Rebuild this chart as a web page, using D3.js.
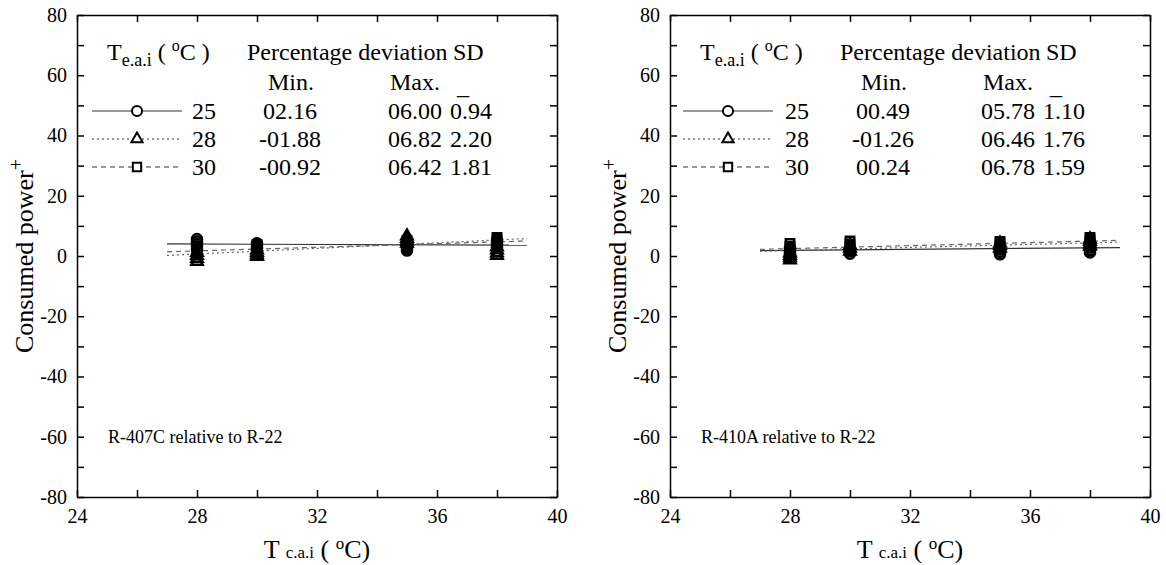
<!DOCTYPE html>
<html>
<head>
<meta charset="utf-8">
<script src="https://cdn.jsdelivr.net/npm/d3@7"></script>
<style>
body { margin: 0; background: #fff; }
svg text { font-family: "Liberation Serif", "DejaVu Serif", serif; fill: #000; }
.axis path, .axis line { stroke: #000; stroke-width: 1.5; }
.axis text { font-size: 20px; font-family: "Liberation Serif", serif; }
</style>
</head>
<body>
<script>
var W = 1166, H = 565;

// measured x positions (T c.a.i) and the three T e.a.i series
var xValues = [28, 30, 35, 38];
var seriesNames = ["25", "28", "30"];
var xTicks = [24, 28, 32, 36, 40];
var yTicks = [-80, -60, -40, -20, 0, 20, 40, 60, 80];

// R-407C relative to R-22 : values per x position (several runs each)
var r407c_25 = [[5.6, 4.8, 4.0, 3.2, 2.4], [4.2, 3.4, 2.6, 1.8], [3.8, 3.0, 2.4, 1.8], [5.2, 4.4, 3.6, 2.8]];
var r407c_28 = [[1.2, 0.2, -0.8, -1.8], [2.0, 1.2, 0.4, -0.2], [6.6, 5.8, 5.0, 4.2], [3.0, 2.0, 1.0, 0.2]];
var r407c_30 = [[3.2, 2.2, 1.2, 0.4], [3.8, 3.0, 2.2, 1.4], [5.2, 4.4, 3.6, 2.8], [6.2, 5.4, 4.6, 3.8]];
// fitted lines [x, y]
var r407c_fit = [[[27, 4.0], [39, 3.6]], [[27, 0.2], [39, 5.8]], [[27, 1.4], [39, 5.0]]];
var r407c_min = ["02.16", "-01.88", "-00.92"];
var r407c_max = ["06.00", "06.82", "06.42"];
var r407c_sd = ["0.94", "2.20", "1.81"];

// R-410A relative to R-22
var r410a_25 = [[2.6, 1.8, 1.0, 0.4], [2.4, 1.6, 0.8], [2.2, 1.4, 0.6], [3.6, 2.8, 2.0, 1.2]];
var r410a_28 = [[1.0, 0.2, -0.6, -1.3], [3.6, 2.6, 1.6], [4.2, 3.4, 2.6], [5.6, 4.8, 4.0, 3.2]];
var r410a_30 = [[4.2, 3.2, 2.2, 1.4], [5.0, 4.0, 3.0], [4.8, 4.0, 3.2, 2.4], [6.2, 5.4, 4.6, 3.8]];
var r410a_fit = [[[27, 1.8], [39, 2.8]], [[27, 1.6], [39, 4.6]], [[27, 2.2], [39, 5.2]]];
var r410a_min = ["00.49", "-01.26", "00.24"];
var r410a_max = ["05.78", "06.46", "06.78"];
var r410a_sd = ["1.10", "1.76", "1.59"];

var panels = [
  {left: 77, title: "R-407C relative to R-22", pts: [r407c_25, r407c_28, r407c_30], fit: r407c_fit,
   min: r407c_min, max: r407c_max, sd: r407c_sd, legOff: 15},
  {left: 670, title: "R-410A relative to R-22", pts: [r410a_25, r410a_28, r410a_30], fit: r410a_fit,
   min: r410a_min, max: r410a_max, sd: r410a_sd, legOff: 13}
];

var symbols = [d3.symbolCircle, d3.symbolTriangle, d3.symbolSquare];
var symSize = [80, 55, 70];
var dashes = [null, "2,3", "5,4"];

var svg = d3.select("body").append("svg").attr("width", W).attr("height", H);

panels.forEach(function(p) {
  var x = d3.scaleLinear().domain([24, 40]).range([p.left, p.left + 480]);
  var y = d3.scaleLinear().domain([-80, 80]).range([497, 15]);
  var g = svg.append("g");

  // axes with inward ticks on all four sides
  g.append("g").attr("class", "axis").attr("transform", "translate(0,497)")
    .call(d3.axisBottom(x).tickValues(d3.range(24, 41, 2)).tickSizeInner(-7).tickSizeOuter(0)
      .tickPadding(12).tickFormat(function(d) { return xTicks.indexOf(d) >= 0 ? d : ""; }));
  g.append("g").attr("class", "axis").attr("transform", "translate(0,15)")
    .call(d3.axisTop(x).tickValues(d3.range(24, 41, 2)).tickSizeInner(-7).tickSizeOuter(0).tickFormat(""));
  g.append("g").attr("class", "axis").attr("transform", "translate(" + p.left + ",0)")
    .call(d3.axisLeft(y).tickValues(d3.range(-80, 81, 10)).tickSizeInner(-7).tickSizeOuter(0)
      .tickPadding(10).tickFormat(function(d) { return yTicks.indexOf(d) >= 0 ? d : ""; }));
  g.append("g").attr("class", "axis").attr("transform", "translate(" + (p.left + 480) + ",0)")
    .call(d3.axisRight(y).tickValues(d3.range(-80, 81, 10)).tickSizeInner(-7).tickSizeOuter(0).tickFormat(""));
  g.selectAll(".axis .tick text").filter(function() { return this.textContent === ""; }).remove();

  // fitted lines
  var line = d3.line().x(function(d) { return x(d[0]); }).y(function(d) { return y(d[1]); });
  p.fit.forEach(function(f, i) {
    g.append("path").attr("d", line(f)).attr("fill", "none")
      .attr("stroke", i === 0 ? "#333" : "#666").attr("stroke-width", 1.2)
      .attr("stroke-dasharray", dashes[i]);
  });

  // points
  p.pts.forEach(function(s, i) {
    var flat = [];
    s.forEach(function(vals, k) { vals.forEach(function(v) { flat.push([xValues[k], v]); }); });
    g.selectAll(null).data(flat).enter().append("path")
      .attr("d", d3.symbol().type(symbols[i]).size(symSize[i]))
      .attr("transform", function(d) { return "translate(" + x(d[0]) + "," + y(d[1]) + ")"; })
      .attr("fill", "none").attr("stroke", "#000").attr("stroke-width", 2.5);
  });

  // legend table
  var L = p.left;
  var hdr = g.append("text").attr("x", L + 30).attr("y", 60).attr("font-size", 24);
  hdr.append("tspan").text("T");
  hdr.append("tspan").attr("font-size", 18).attr("dy", 6).text("e.a.i");
  hdr.append("tspan").attr("dy", -6).text(" ( ");
  hdr.append("tspan").attr("font-size", 16).attr("dy", -9).text("o");
  hdr.append("tspan").attr("dy", 9).text("C )");
  g.append("text").attr("x", L + 170).attr("y", 60).attr("font-size", 24).text("Percentage deviation");
  g.append("text").attr("x", L + 376).attr("y", 60).attr("font-size", 24).text("SD");
  g.append("text").attr("x", L + 214).attr("y", 90).attr("font-size", 24).attr("text-anchor", "middle").text("Min.");
  g.append("text").attr("x", L + 338).attr("y", 90).attr("font-size", 24).attr("text-anchor", "middle").text("Max.");
  g.append("text").attr("x", L + 380).attr("y", 94).attr("font-size", 24).text("_");

  var rowY = [111, 139, 167];
  seriesNames.forEach(function(name, i) {
    var yy = rowY[i];
    g.append("line").attr("x1", L + p.legOff).attr("x2", L + p.legOff + 90)
      .attr("y1", yy).attr("y2", yy).attr("stroke", "#333").attr("stroke-width", 1.2)
      .attr("stroke-dasharray", dashes[i]);
    g.append("path").attr("d", d3.symbol().type(symbols[i]).size(symSize[i])())
      .attr("transform", "translate(" + (L + p.legOff + 45) + "," + yy + ")")
      .attr("fill", "#fff").attr("stroke", "#000").attr("stroke-width", 2);
    g.append("text").attr("x", L + 115).attr("y", yy + 8).attr("font-size", 24).text(name);
    g.append("text").attr("x", L + 213).attr("y", yy + 8).attr("font-size", 24).attr("text-anchor", "middle").text(p.min[i]);
    g.append("text").attr("x", L + 338).attr("y", yy + 8).attr("font-size", 24).attr("text-anchor", "middle").text(p.max[i]);
    g.append("text").attr("x", L + 394).attr("y", yy + 8).attr("font-size", 24).attr("text-anchor", "middle").text(p.sd[i]);
  });

  g.append("text").attr("x", L + 31).attr("y", 443).attr("font-size", 18).text(p.title);

  // axis titles
  var xt = g.append("text").attr("x", L + 240).attr("y", 558).attr("text-anchor", "middle").attr("font-size", 26);
  xt.append("tspan").text("T ");
  xt.append("tspan").attr("font-size", 17).text("c.a.i");
  xt.append("tspan").text(" (  ");
  xt.append("tspan").attr("font-size", 17).attr("dy", -9).text("o");
  xt.append("tspan").attr("dy", 9).text("C)");

  var yt = g.append("text").attr("transform", "translate(" + (L - 44) + ",256) rotate(-90)")
    .attr("text-anchor", "middle").attr("font-size", 26);
  yt.append("tspan").text("Consumed power");
  yt.append("tspan").attr("font-size", 20).attr("dy", -10).text("+");
});
</script>
</body>
</html>
